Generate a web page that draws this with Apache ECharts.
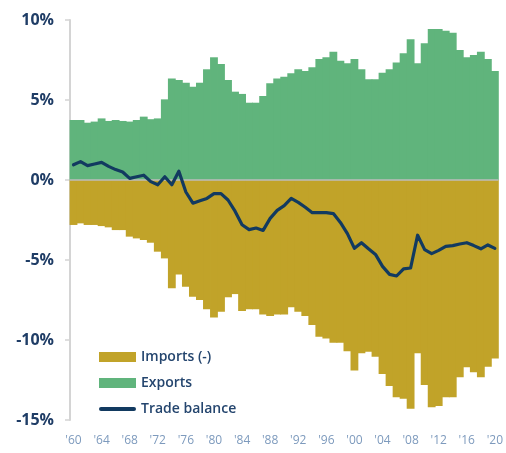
<!DOCTYPE html>
<html>
<head>
<meta charset="utf-8">
<script src="https://cdn.jsdelivr.net/npm/echarts@6/dist/echarts.min.js"></script>
<style>
  html, body { margin: 0; padding: 0; background: #fff; }
  #chart { width: 506px; height: 453px; }
</style>
</head>
<body>
<div id="chart"></div>
<script>
  // years 1960 - 2020
  var years = [];
  for (var y = 1960; y <= 2020; y++) years.push(y);

  var exportsData = [
    3.75, 3.75, 3.58, 3.65, 3.85, 3.69, 3.75, 3.69, 3.65, 3.75,
    3.96, 3.8, 3.85, 5.04, 6.35, 6.25, 6.08, 5.83, 6.08, 6.92,
    7.67, 7.25, 6.25, 5.52, 5.38, 4.83, 4.83, 5.25, 6.04, 6.35,
    6.46, 6.67, 6.92, 6.81, 7.04, 7.56, 7.67, 8.02, 7.46, 7.29,
    7.56, 6.92, 6.29, 6.29, 6.71, 6.92, 7.35, 7.92, 8.79, 7.29,
    8.54, 9.44, 9.44, 9.33, 9.21, 8.13, 7.67, 7.81, 8.02, 7.56,
    6.81
  ];
  var importsData = [
    -2.81, -2.71, -2.81, -2.81, -2.88, -2.96, -3.13, -3.13, -3.54, -3.65,
    -3.75, -3.92, -4.48, -4.9, -6.77, -5.9, -6.67, -7.29, -7.5, -8.08,
    -8.6, -8.23, -7.33, -7.13, -8.19, -8.08, -8.08, -8.4, -8.5, -8.4,
    -8.4, -7.96, -8.23, -8.5, -9.06, -9.79, -9.9, -10.17, -10.17, -10.7,
    -11.9, -10.83, -10.73, -11.04, -12.13, -12.88, -13.58, -13.67, -14.29, -10.83,
    -12.81, -14.21, -14.13, -13.58, -13.58, -12.33, -11.71, -12.02, -12.33, -11.67,
    -11.15
  ];
  var balanceData = [
    0.95, 1.15, 0.9, 1.0, 1.1, 0.85, 0.65, 0.5, 0.1, 0.2,
    0.3, -0.1, -0.3, 0.2, -0.3, 0.55, -0.75, -1.45, -1.3, -1.15,
    -0.85, -0.85, -1.25, -1.95, -2.8, -3.1, -3.0, -3.15, -2.4, -1.9,
    -1.6, -1.15, -1.4, -1.7, -2.04, -2.04, -2.04, -2.1, -2.65, -3.35,
    -4.27, -3.92, -4.3, -4.65, -5.4, -5.9, -6.0, -5.55, -5.5, -3.45,
    -4.35, -4.6, -4.4, -4.15, -4.1, -4.0, -3.92, -4.1, -4.3, -4.06,
    -4.27
  ];
  var yTicks = [-15, -10, -5, 0, 5, 10];

  var green = '#60b47c';
  var gold = '#c1a329';
  var navy = '#123a60';

  // bars drawn edge to edge (a hair wider than the band so no seams show)
  function barItem(color) {
    return function (params, api) {
      var base = api.coord([api.value(0), 0]);
      var end = api.coord([api.value(0), api.value(1)]);
      var w = api.size([1, 0])[0];
      return {
        type: 'rect',
        shape: {
          x: base[0] - w / 2 - 0.4,
          y: Math.min(base[1], end[1]),
          width: w + 0.8,
          height: Math.abs(end[1] - base[1])
        },
        style: { fill: color }
      };
    };
  }
  function pairs(arr) {
    return arr.map(function (v, i) { return [i, v]; });
  }

  var chart = echarts.init(document.getElementById('chart'));
  var option = {
    animation: false,
    textStyle: { fontFamily: 'Open Sans' },
    grid: { left: 70, right: 0, top: 20, bottom: 33 },
    legend: {
      orient: 'vertical',
      left: 94,
      top: 345,
      itemWidth: 37,
      itemHeight: 10,
      itemGap: 12,
      symbolKeepAspect: true,
      textStyle: { color: '#24456e', fontSize: 14, fontWeight: 600, fontFamily: 'Open Sans' },
      data: [
        { name: 'Imports (-)', icon: 'rect', itemStyle: { color: gold } },
        { name: 'Exports', icon: 'rect', itemStyle: { color: green } },
        { name: 'Trade balance', icon: 'path://M2,0 H35 A2,2 0 0 1 35,4 H2 A2,2 0 0 1 2,0 Z' }
      ]
    },
    xAxis: {
      type: 'category',
      data: years,
      axisLine: { show: false },
      axisTick: { show: false },
      axisLabel: {
        interval: function (idx, val) { return (val - 1960) % 4 === 0; },
        formatter: function (val) { return "'" + String(val).slice(2); },
        color: '#7d9abd',
        fontSize: 12,
        margin: 15
      }
    },
    yAxis: {
      type: 'value',
      min: yTicks[0],
      max: yTicks[yTicks.length - 1],
      interval: 5,
      splitLine: { show: false },
      axisLine: { show: true, lineStyle: { color: '#d4d4d4', width: 2 } },
      axisTick: { show: true, length: 5, lineStyle: { color: '#d4d4d4', width: 1.5 } },
      axisLabel: {
        formatter: '{value}%',
        color: '#1f3d66',
        fontSize: 16,
        fontWeight: 'bold',
        margin: 16
      }
    },
    series: [
      {
        name: 'Imports (-)',
        type: 'custom',
        data: pairs(importsData),
        encode: { x: 0, y: 1 },
        itemStyle: { color: gold },
        renderItem: barItem(gold),
        markLine: {
          silent: true,
          symbol: 'none',
          label: { show: false },
          lineStyle: { color: '#bdbdbd', width: 1.5, type: 'solid' },
          data: [{ yAxis: 0 }]
        }
      },
      {
        name: 'Exports',
        type: 'custom',
        data: pairs(exportsData),
        encode: { x: 0, y: 1 },
        itemStyle: { color: green },
        renderItem: barItem(green)
      },
      {
        name: 'Trade balance',
        type: 'line',
        data: balanceData,
        symbol: 'none',
        showSymbol: false,
        z: 5,
        lineStyle: { color: navy, width: 3.2, cap: 'round', join: 'round' },
        itemStyle: { color: navy }
      }
    ]
  };
  chart.setOption(option);
</script>
</body>
</html>
